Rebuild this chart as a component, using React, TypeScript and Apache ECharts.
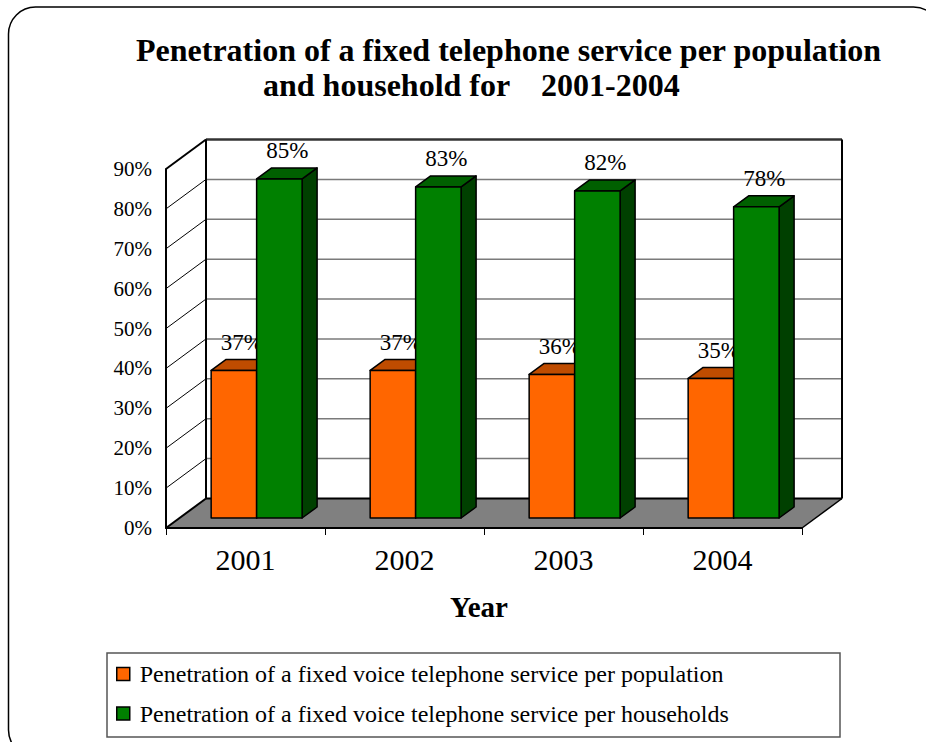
import React, { useEffect, useRef } from "react";
import * as echarts from "echarts";

const years = ["2001", "2002", "2003", "2004"];
const populationPct = [37, 37, 36, 35];
const householdPct = [85, 83, 82, 78];
const yTickValues = [0, 10, 20, 30, 40, 50, 60, 70, 80, 90];
const seriesNames = [
  "Penetration of a fixed voice telephone service per population",
  "Penetration of a fixed voice telephone service per households",
];
const titleLine1 = "Penetration of a fixed telephone service per population";
const titleLine2a = "and household for";
const titleLine2b = "2001-2004";

const SERIF = "'Liberation Serif', 'Times New Roman', serif";
const DX = 40;
const DY = -29.5;
const BAR_DX = 15;
const BAR_DY = -11;

const palettes = [
  { front: "#FF6600", top: "#BF4C00", side: "#993D00" },
  { front: "#008000", top: "#006000", side: "#004000" },
];

function wallsRender(params: any, api: any) {
  const cs = params.coordSys;
  const x0 = cs.x;
  const x1 = cs.x + cs.width;
  const y0 = api.coord([0, 0])[1];
  const yTop = api.coord([0, yTickValues[yTickValues.length - 1]])[1];
  const children: any[] = [];
  children.push({
    type: "polygon",
    shape: { points: [[x0 + DX, yTop + DY], [x1 + DX, yTop + DY], [x1 + DX, y0 + DY], [x0 + DX, y0 + DY]] },
    style: { fill: "#ffffff" },
  });
  children.push({
    type: "polygon",
    shape: { points: [[x0, y0], [x0 + DX, y0 + DY], [x1 + DX, y0 + DY], [x1, y0]] },
    style: { fill: "#808080" },
  });
  yTickValues.forEach((v, k) => {
    if (k === 0 || k === yTickValues.length - 1) return;
    const y = api.coord([0, v])[1];
    children.push({
      type: "line",
      shape: { x1: x0 + DX, y1: y + DY, x2: x1 + DX, y2: y + DY },
      style: { stroke: "#7a7a7a", lineWidth: 1.5 },
    });
    children.push({
      type: "line",
      shape: { x1: x0, y1: y, x2: x0 + DX, y2: y + DY },
      style: { stroke: "#000", lineWidth: 1 },
    });
  });
  const edge = (a: number[], b: number[], w: number, c = "#000") =>
    children.push({ type: "line", shape: { x1: a[0], y1: a[1], x2: b[0], y2: b[1] }, style: { stroke: c, lineWidth: w } });
  edge([x0 + DX, yTop + DY], [x1 + DX, yTop + DY], 2.5, "#333");
  edge([x0 + DX, yTop + DY], [x0 + DX, y0 + DY], 2);
  edge([x1 + DX, yTop + DY], [x1 + DX, y0 + DY], 2);
  edge([x0 + DX, y0 + DY], [x1 + DX, y0 + DY], 2);
  edge([x0, yTop], [x0 + DX, yTop + DY], 2);
  edge([x0, y0], [x0 + DX, y0 + DY], 2);
  edge([x1, y0], [x1 + DX, y0 + DY], 1.5);
  edge([x0, y0], [x1, y0], 2);
  edge([x0, yTop], [x0, y0], 2);
  return { type: "group", children };
}

function makeBarRender(s: number) {
  return (params: any, api: any) => {
    const i = api.value(0);
    const v = api.value(1);
    const [cx, by] = api.coord([i, 0]);
    const topY = api.coord([i, v])[1];
    const band = api.size([1, 0])[0];
    const bw = band * 0.286;
    const left = cx + band * 0.07 - bw + s * bw;
    const base = by - 10;
    const ftop = topY - 10;
    const p = palettes[s];
    const stroke = { stroke: "#000", lineWidth: 1.5, lineJoin: "round" };
    return {
      type: "group",
      children: [
        {
          type: "polygon",
          z2: s,
          shape: { points: [[left + bw, ftop], [left + bw + BAR_DX, ftop + BAR_DY], [left + bw + BAR_DX, base + BAR_DY], [left + bw, base]] },
          style: { fill: p.side, ...stroke },
        },
        {
          type: "polygon",
          z2: s,
          shape: { points: [[left, ftop], [left + BAR_DX, ftop + BAR_DY], [left + bw + BAR_DX, ftop + BAR_DY], [left + bw, ftop]] },
          style: { fill: p.top, ...stroke },
        },
        {
          type: "rect",
          z2: s,
          shape: { x: left, y: ftop, width: bw, height: base - ftop },
          style: { fill: p.front, ...stroke },
        },
        {
          type: "text",
          z2: 20,
          x: left + bw / 2 + 8,
          y: ftop - 28,
          style: {
            text: Math.round(v) + "%",
            font: "normal normal 23px " + SERIF,
            fontSize: 23,
            fontFamily: SERIF,
            fill: "#000",
            align: "center",
            verticalAlign: "middle",
          },
        },
      ],
    };
  };
}

export default function App() {
  const ref = useRef<HTMLDivElement>(null);
  useEffect(() => {
    if (!ref.current) return;
    const chart = echarts.init(ref.current, undefined, { renderer: "svg" });
    const option: any = {
      animation: false,
      backgroundColor: "#ffffff",
      textStyle: { fontFamily: SERIF },
      title: [
        {
          text: titleLine1,
          left: 136,
          top: 34,
          padding: 0,
          textStyle: { fontSize: 32, fontWeight: "bold", fontFamily: SERIF, color: "#000", lineHeight: 32 },
        },
        {
          text: titleLine2a,
          left: 263,
          top: 69,
          padding: 0,
          textStyle: { fontSize: 32, fontWeight: "bold", fontFamily: SERIF, color: "#000", lineHeight: 32 },
        },
        {
          text: titleLine2b,
          left: 541,
          top: 69,
          padding: 0,
          textStyle: { fontSize: 32, fontWeight: "bold", fontFamily: SERIF, color: "#000", lineHeight: 32 },
        },
      ],
      graphic: [
        {
          type: "rect",
          z: -10,
          shape: { x: 8.5, y: 7, width: 932, height: 750, r: 27 },
          style: { fill: "none", stroke: "#000", lineWidth: 1.5 },
        },
        {
          type: "rect",
          z: 1,
          shape: { x: 107, y: 653, width: 733, height: 84 },
          style: { fill: "#fff", stroke: "#555", lineWidth: 1.5 },
        },
      ],
      legend: {
        orient: "vertical",
        left: 116,
        top: 662,
        padding: 0,
        itemWidth: 13,
        itemHeight: 13,
        itemGap: 15.5,
        icon: "rect",
        z: 5,
        textStyle: { fontSize: 24, fontFamily: SERIF, color: "#000", padding: [0, 0, 0, 5] },
        data: seriesNames.map((n, k) => ({
          name: n,
          itemStyle: { color: palettes[k].front, borderColor: "#000", borderWidth: 1.5 },
        })),
      },
      grid: { left: 166, top: 169, width: 636, height: 359 },
      xAxis: {
        type: "category",
        data: years,
        name: "Year",
        nameLocation: "middle",
        nameGap: 64,
        nameTextStyle: { fontSize: 29, fontWeight: "bold", fontFamily: SERIF, color: "#000", padding: [0, 10, 0, 0] },
        axisLine: { show: true, lineStyle: { color: "#000", width: 2 } },
        axisTick: { show: true, length: 7, lineStyle: { color: "#000", width: 1 } },
        axisLabel: { fontSize: 30, fontFamily: SERIF, color: "#000", margin: 16 },
        splitLine: { show: false },
      },
      yAxis: {
        type: "value",
        min: 0,
        max: 90,
        interval: 10,
        axisLine: { show: true, lineStyle: { color: "#000", width: 2 } },
        axisTick: { show: false },
        axisLabel: { formatter: "{value}%", fontSize: 21, fontFamily: SERIF, color: "#000", margin: 14 },
        splitLine: { show: false },
      },
      series: [
        {
          type: "custom",
          name: "walls",
          z: 1,
          silent: true,
          renderItem: wallsRender,
          data: [[0, 0]],
          encode: { x: 0, y: 1 },
        },
        {
          type: "custom",
          name: seriesNames[0],
          z: 2,
          itemStyle: { color: palettes[0].front },
          renderItem: makeBarRender(0),
          data: populationPct.map((v, i) => [i, v]),
          encode: { x: 0, y: 1 },
        },
        {
          type: "custom",
          name: seriesNames[1],
          z: 3,
          itemStyle: { color: palettes[1].front },
          renderItem: makeBarRender(1),
          data: householdPct.map((v, i) => [i, v]),
          encode: { x: 0, y: 1 },
        },
      ],
    };
    chart.setOption(option);
    return () => chart.dispose();
  }, []);
  return <div ref={ref} style={{ position: "absolute", left: 0, top: 0, width: 926, height: 742 }} />;
}
